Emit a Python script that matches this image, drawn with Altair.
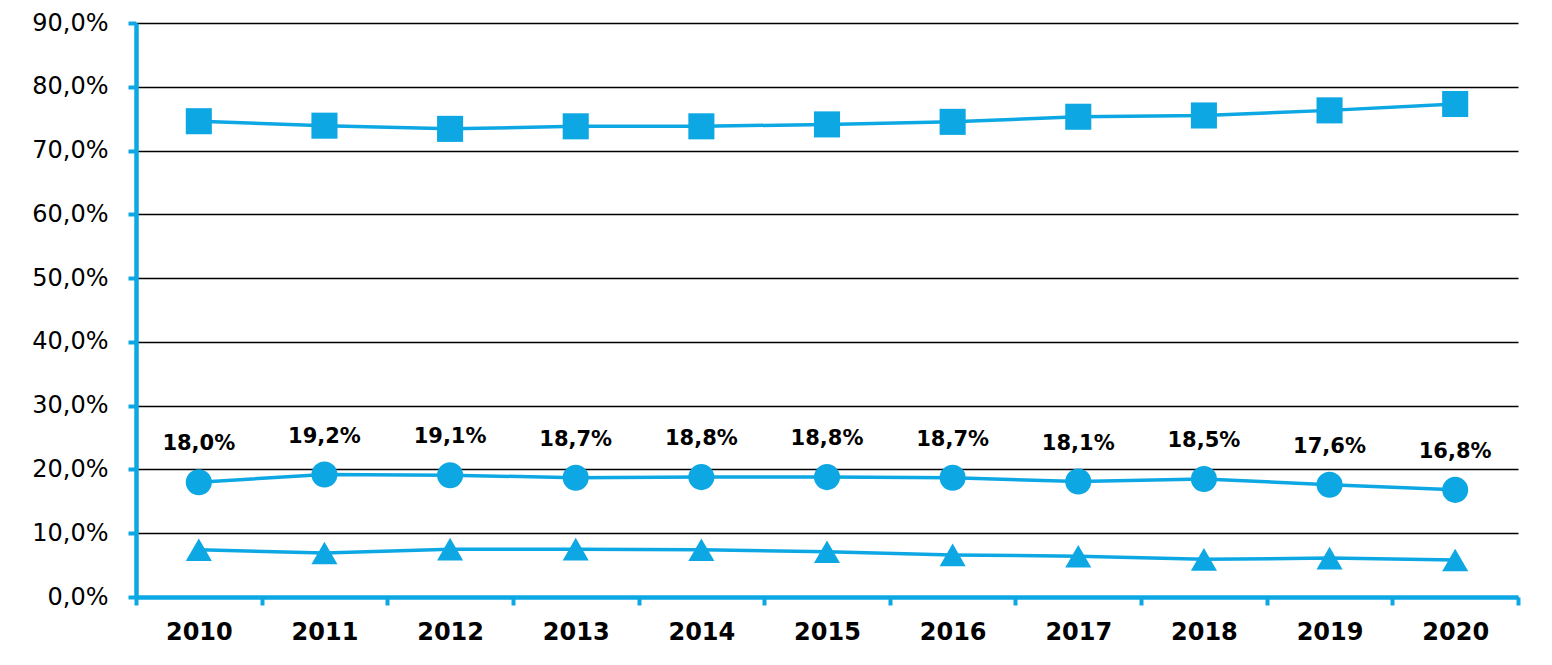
import altair as alt
import pandas as pd

years = [str(y) for y in range(2010, 2021)]
square_series = [74.6, 73.9, 73.4, 73.8, 73.8, 74.1, 74.5, 75.3, 75.5, 76.3, 77.3]
circle_series = [18.0, 19.2, 19.1, 18.7, 18.8, 18.8, 18.7, 18.1, 18.5, 17.6, 16.8]
triangle_series = [7.4, 6.9, 7.5, 7.5, 7.4, 7.1, 6.6, 6.4, 5.9, 6.1, 5.8]
series_names = ["A", "B", "C"]
series_shapes = ["square", "circle", "triangle-up"]
y_ticks = [0.0, 0.1, 0.2, 0.3, 0.4, 0.5, 0.6, 0.7, 0.8, 0.9]

BLUE = "#0DA8E4"

rows = []
for name, vals in zip(series_names, [square_series, circle_series, triangle_series]):
    for yr, v in zip(years, vals):
        rows.append({"year": yr, "series": name, "value": v / 100.0})
df = pd.DataFrame(rows)

x_enc = alt.X(
    "year:N",
    sort=years,
    bandPosition=0.5,
    scale=alt.Scale(type="band", paddingInner=0, paddingOuter=0),
    axis=alt.Axis(
        title=None,
        labelAngle=0,
        tickBand="extent",
        domainColor=BLUE,
        domainWidth=4.5,
        tickColor=BLUE,
        tickWidth=4,
        tickSize=8,
        labelFont="DejaVu Sans",
        labelFontWeight="bold",
        labelFontSize=24,
        labelColor="#000000",
        labelPadding=15,
        grid=False,
    ),
)

y_enc = alt.Y(
    "value:Q",
    scale=alt.Scale(domain=[0, 0.9], nice=False, zero=True),
    axis=alt.Axis(
        title=None,
        values=y_ticks,
        labelExpr="replace(format(datum.value, '.1%'), '.', ',')",
        domainColor=BLUE,
        domainWidth=4.5,
        tickColor=BLUE,
        tickWidth=4,
        tickSize=8,
        grid=True,
        gridColor="#000000",
        gridWidth=1.5,
        labelFont="DejaVu Sans",
        labelFontSize=24,
        labelColor="#000000",
        labelPadding=20,
    ),
)

base = alt.Chart(df)

lines = base.mark_line(color=BLUE, strokeWidth=3.5).encode(
    x=x_enc, y=y_enc, detail="series:N"
)

points = base.mark_point(filled=True, opacity=1, color=BLUE, size=680).encode(
    x=x_enc,
    y=y_enc,
    shape=alt.Shape(
        "series:N",
        scale=alt.Scale(domain=series_names, range=series_shapes),
        legend=None,
    ),
)

labels = (
    base.transform_filter(alt.datum.series == "B")
    .transform_calculate(lbl="replace(format(datum.value, '.1%'), '.', ',')")
    .mark_text(
        font="DejaVu Sans",
        fontSize=21,
        fontWeight="bold",
        color="#000000",
        dy=-38,
        baseline="middle",
    )
    .encode(x=x_enc, y=y_enc, text="lbl:N")
)

chart = (
    alt.layer(lines, points, labels)
    .properties(
        width=1382,
        height=574,
        autosize=alt.AutoSizeParams(type="none"),
        padding={"left": 128, "top": 15, "right": 26, "bottom": 60},
        background="#ffffff",
    )
    .configure_view(stroke=None)
)

chart.save("out.html", embed_options={"renderer": "svg", "actions": False})
